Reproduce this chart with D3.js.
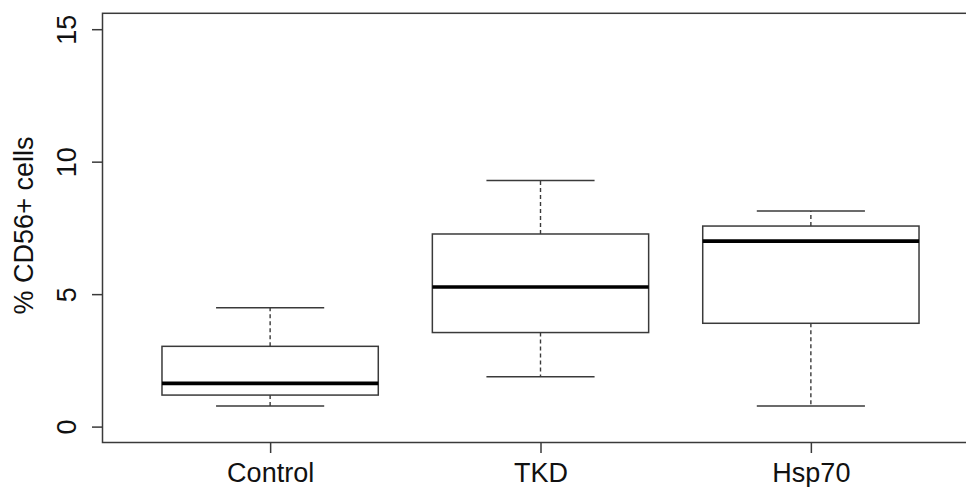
<!DOCTYPE html>
<html>
<head>
<meta charset="utf-8">
<script src="https://cdn.jsdelivr.net/npm/d3@7"></script>
<style>
  html, body { margin: 0; padding: 0; background: #fff; }
  svg { display: block; }
  text { font-family: "Liberation Sans", Arial, sans-serif; fill: #111; }
</style>
</head>
<body>
<div id="chart"></div>
<script>

// groups along the x axis
var groups = ["Control", "TKD", "Hsp70"];

// five-number summaries (lower whisker, Q1, median, Q3, upper whisker)
var lowerWhisker = [0.78, 1.88, 0.78];
var q1           = [1.19, 3.55, 3.90];
var medians      = [1.63, 5.27, 7.00];
var q3           = [3.03, 7.27, 7.57];
var upperWhisker = [4.49, 9.29, 8.14];

var yTicks = [0, 5, 10, 15];
var yTitle = "% CD56+ cells";

var width = 966,
    height = 487;

var fontSize = "27px";

// plot region (R style, right side runs past the window)
var plot = { left: 102.5, top: 13.3, right: 978.5, bottom: 442.5 };

var boxes = groups.map(function(g, i) {
  return {
    name: g,
    pos: i + 1,
    lo: lowerWhisker[i],
    q1: q1[i],
    med: medians[i],
    q3: q3[i],
    hi: upperWhisker[i]
  };
});

// R pads the range by 4% each side
var x = d3.scaleLinear()
  .domain([0.38, 3.62])
  .range([plot.left, plot.right]);

var y = d3.scaleLinear()
  .domain([-0.6, 15.6])
  .range([plot.bottom, plot.top]);

var boxHalf = 0.4,
    capHalf = 0.2;

var svg = d3.select("#chart")
  .append("svg")
  .attr("width", width)
  .attr("height", height);

svg.append("rect")
  .attr("width", width)
  .attr("height", height)
  .attr("fill", "#fff");

var lineColor = "#3a3a3a";

var g = svg.selectAll("g.box")
  .data(boxes)
  .enter()
  .append("g")
  .attr("class", "box");

// dashed whiskers
g.append("line")
  .attr("x1", function(d) { return x(d.pos); })
  .attr("x2", function(d) { return x(d.pos); })
  .attr("y1", function(d) { return y(d.q3); })
  .attr("y2", function(d) { return y(d.hi); })
  .attr("stroke", lineColor)
  .attr("stroke-width", 1.4)
  .attr("stroke-dasharray", "4,3");

g.append("line")
  .attr("x1", function(d) { return x(d.pos); })
  .attr("x2", function(d) { return x(d.pos); })
  .attr("y1", function(d) { return y(d.q1); })
  .attr("y2", function(d) { return y(d.lo); })
  .attr("stroke", lineColor)
  .attr("stroke-width", 1.4)
  .attr("stroke-dasharray", "4,3");

// whisker caps
["hi", "lo"].forEach(function(k) {
  g.append("line")
    .attr("x1", function(d) { return x(d.pos - capHalf); })
    .attr("x2", function(d) { return x(d.pos + capHalf); })
    .attr("y1", function(d) { return y(d[k]); })
    .attr("y2", function(d) { return y(d[k]); })
    .attr("stroke", lineColor)
    .attr("stroke-width", 1.5);
});

// boxes
g.append("rect")
  .attr("x", function(d) { return x(d.pos - boxHalf); })
  .attr("y", function(d) { return y(d.q3); })
  .attr("width", function(d) { return x(d.pos + boxHalf) - x(d.pos - boxHalf); })
  .attr("height", function(d) { return y(d.q1) - y(d.q3); })
  .attr("fill", "#fff")
  .attr("stroke", lineColor)
  .attr("stroke-width", 1.5);

// medians
g.append("line")
  .attr("x1", function(d) { return x(d.pos - boxHalf); })
  .attr("x2", function(d) { return x(d.pos + boxHalf); })
  .attr("y1", function(d) { return y(d.med); })
  .attr("y2", function(d) { return y(d.med); })
  .attr("stroke", "#000")
  .attr("stroke-width", 3.6);

// frame
svg.append("rect")
  .attr("x", plot.left)
  .attr("y", plot.top)
  .attr("width", plot.right - plot.left)
  .attr("height", plot.bottom - plot.top)
  .attr("fill", "none")
  .attr("stroke", lineColor)
  .attr("stroke-width", 1.5);

// y axis
var yAxis = d3.axisLeft(y)
  .tickValues(yTicks)
  .tickSize(10.5)
  .tickPadding(0)
  .tickFormat(d3.format("d"));

var ya = svg.append("g")
  .attr("transform", "translate(" + plot.left + ",0)")
  .call(yAxis);

ya.select(".domain").remove();
ya.selectAll(".tick line")
  .attr("stroke", lineColor)
  .attr("stroke-width", 1.5);
ya.selectAll(".tick text")
  .attr("x", null)
  .attr("dy", null)
  .attr("transform", "translate(-26.5,0) rotate(-90)")
  .attr("text-anchor", "middle")
  .style("font-size", fontSize)
  .style("font-family", "'Liberation Sans', Arial, sans-serif")
  .attr("fill", "#111");

// x axis
var xAxis = d3.axisBottom(x)
  .tickValues(boxes.map(function(d) { return d.pos; }))
  .tickSize(10.5)
  .tickPadding(0)
  .tickFormat(function(d) { return groups[d - 1]; });

var xa = svg.append("g")
  .attr("transform", "translate(0," + plot.bottom + ")")
  .call(xAxis);

xa.select(".domain").remove();
xa.selectAll(".tick line")
  .attr("stroke", lineColor)
  .attr("stroke-width", 1.5);
xa.selectAll(".tick text")
  .attr("y", 39.5)
  .attr("dy", null)
  .style("font-size", fontSize)
  .style("font-family", "'Liberation Sans', Arial, sans-serif")
  .attr("fill", "#111");

// y title
svg.append("text")
  .attr("transform", "translate(33," + ((138 + 313) / 2) + ") rotate(-90)")
  .attr("text-anchor", "middle")
  .style("font-size", fontSize)
  .text(yTitle);

</script>
</body>
</html>
